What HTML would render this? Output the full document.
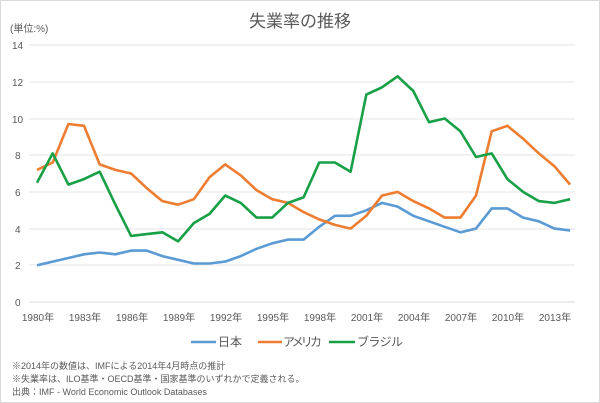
<!DOCTYPE html>
<html><head><meta charset="utf-8"><style>
html,body{margin:0;padding:0;background:#fff;}
svg{display:block;font-family:"Liberation Sans","Noto Sans CJK JP",sans-serif;}
</style></head><body>
<svg width="600" height="403" viewBox="0 0 600 403" xmlns="http://www.w3.org/2000/svg">
<rect x="0.5" y="0.5" width="599" height="402" fill="#fff" stroke="#d9d9d9"/>
<text x="300" y="27" text-anchor="middle" font-size="17" fill="#595959">失業率の推移</text>
<text x="10" y="32" font-size="10" fill="#595959">(単位:%)</text>
<g stroke="#e6e6e6" stroke-width="1">
<line x1="29" x2="575" y1="45" y2="45"/><line x1="29" x2="575" y1="82" y2="82"/>
<line x1="29" x2="575" y1="119" y2="119"/><line x1="29" x2="575" y1="155" y2="155"/>
<line x1="29" x2="575" y1="192" y2="192"/><line x1="29" x2="575" y1="229" y2="229"/>
<line x1="29" x2="575" y1="265" y2="265"/>
</g>
<line x1="29" x2="575" y1="302" y2="302" stroke="#d9d9d9"/>
<g font-size="10" fill="#595959" text-anchor="start">
<text x="12" y="49">14</text><text x="12" y="86">12</text><text x="12" y="123">10</text>
<text x="15" y="159">8</text><text x="15" y="196">6</text><text x="15" y="233">4</text>
<text x="15" y="269">2</text><text x="15" y="306">0</text>
</g>
<g font-size="10" fill="#595959" text-anchor="middle">
<text x="38" y="321">1980年</text><text x="85" y="321">1983年</text><text x="132" y="321">1986年</text>
<text x="179" y="321">1989年</text><text x="226" y="321">1992年</text><text x="273" y="321">1995年</text>
<text x="320" y="321">1998年</text><text x="367" y="321">2001年</text><text x="414" y="321">2004年</text>
<text x="461" y="321">2007年</text><text x="508" y="321">2010年</text><text x="555" y="321">2013年</text>
</g>
<g fill="none" stroke-width="2.6" stroke-linejoin="round">
<polyline id="jp" stroke="#5b9bd5" points=""/>
<polyline id="us" stroke="#ed7d31" points=""/>
<polyline id="br" stroke="#17a046" points=""/>
</g>
<g stroke-width="2.6">
<line x1="191" x2="216" y1="342" y2="342" stroke="#5b9bd5"/>
<line x1="258" x2="282" y1="342" y2="342" stroke="#ed7d31"/>
<line x1="329" x2="355" y1="342" y2="342" stroke="#17a046"/>
</g>
<g font-size="12" fill="#595959">
<text x="218" y="346">日本</text><text x="283" y="346" textLength="39">アメリカ</text><text x="357" y="346" textLength="46">ブラジル</text>
</g>
<g font-size="9" fill="#595959">
<text x="12" y="369">※2014年の数値は、IMFによる2014年4月時点の推計</text>
<text x="12" y="382">※失業率は、ILO基準・OECD基準・国家基準のいずれかで定義される。</text>
<text x="12" y="395">出典：IMF - World Economic Outlook Databases</text>
</g>
<script>
var d={jp:[2.0,2.2,2.4,2.6,2.7,2.6,2.8,2.8,2.5,2.3,2.1,2.1,2.2,2.5,2.9,3.2,3.4,3.4,4.1,4.7,4.7,5.0,5.4,5.2,4.7,4.4,4.1,3.8,4.0,5.1,5.1,4.6,4.4,4.0,3.9],
us:[7.2,7.6,9.7,9.6,7.5,7.2,7.0,6.2,5.5,5.3,5.6,6.8,7.5,6.9,6.1,5.6,5.4,4.9,4.5,4.2,4.0,4.7,5.8,6.0,5.5,5.1,4.6,4.6,5.8,9.3,9.6,8.9,8.1,7.4,6.4],
br:[6.5,8.1,6.4,6.7,7.1,5.3,3.6,3.7,3.8,3.3,4.3,4.8,5.8,5.4,4.6,4.6,5.4,5.7,7.6,7.6,7.1,11.3,11.7,12.3,11.5,9.8,10.0,9.3,7.9,8.1,6.7,6.0,5.5,5.4,5.6]};
for(var k in d){document.getElementById(k).setAttribute('points',d[k].map(function(v,i){return (37+15.68*i).toFixed(1)+','+(302-18.35*v).toFixed(1);}).join(' '));}
</script>
</svg>
</body></html>
